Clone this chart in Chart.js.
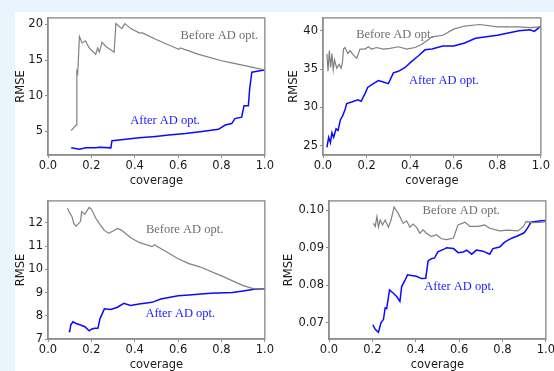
<html lang="en">
<head>
  <meta charset="UTF-8" />
  <title>RMSE vs coverage</title>
  <script src="https://cdn.jsdelivr.net/npm/chart.js"></script>
  <style>
    html, body {
      margin: 0;
      padding: 0;
      width: 554px;
      height: 371px;
      overflow: hidden;
      background: #e9f5fc;
    }
    #panel {
      position: absolute;
      left: 15px;
      top: 12px;
      width: 539px;
      height: 359px;
      background: white;
    }
    .box {
      position: absolute;
    }
  </style>
</head>
<body>
  <div id="panel"></div>
  <div class="box" id="b1"><canvas id="c1"></canvas></div>
  <div class="box" id="b2"><canvas id="c2"></canvas></div>
  <div class="box" id="b3"><canvas id="c3"></canvas></div>
  <div class="box" id="b4"><canvas id="c4"></canvas></div>

  <script>
    // x ticks shared by all four panels
    const coverageTicks = [0, 0.2, 0.4, 0.6, 0.8, 1.0];

    // panel 1 (top left)
    const p1BeforeX = [0.107, 0.127, 0.130, 0.133, 0.137, 0.145, 0.157, 0.172, 0.19, 0.22, 0.229, 0.237, 0.249, 0.267, 0.305, 0.307, 0.313, 0.34, 0.354, 0.382, 0.42, 0.435, 0.496, 0.573, 0.603, 0.61, 0.695, 0.80, 0.847, 0.94, 1.0];
    const p1BeforeY = [5.1, 5.8, 5.9, 13.4, 13.1, 18.3, 17.4, 17.7, 16.7, 15.8, 16.7, 16.1, 17.5, 16.9, 16.1, 16.1, 20.1, 19.4, 20.1, 19.4, 18.8, 18.8, 17.9, 16.9, 16.5, 16.7, 15.8, 14.9, 14.6, 14.0, 13.6];
    const p1AfterX = [0.107, 0.145, 0.175, 0.22, 0.237, 0.29, 0.295, 0.328, 0.42, 0.496, 0.557, 0.634, 0.71, 0.786, 0.817, 0.847, 0.862, 0.893, 0.904, 0.924, 0.93, 0.94, 0.977, 1.0];
    const p1AfterY = [2.7, 2.5, 2.7, 2.7, 2.8, 2.7, 3.7, 3.8, 4.1, 4.3, 4.5, 4.7, 5.0, 5.3, 5.9, 6.1, 6.8, 7.0, 8.6, 8.6, 11.0, 13.3, 13.5, 13.6];
    const p1Ticks = [5, 10, 15, 20];

    // panel 2 (top right)
    const p2BeforeX = [0.018, 0.023, 0.029, 0.035, 0.041, 0.047, 0.053, 0.063, 0.074, 0.083, 0.089, 0.094, 0.101, 0.114, 0.124, 0.14, 0.155, 0.17, 0.193, 0.208, 0.223, 0.246, 0.277, 0.308, 0.346, 0.384, 0.422, 0.452, 0.483, 0.5, 0.55, 0.6, 0.65, 0.72, 0.8, 0.9, 0.95, 1.0];
    const p2BeforeY = [37.0, 34.7, 37.4, 35.2, 37.0, 34.9, 36.2, 35.1, 35.6, 35.1, 35.8, 37.6, 37.8, 37.0, 37.4, 36.8, 36.4, 37.6, 37.6, 37.9, 37.6, 37.8, 37.6, 37.7, 37.9, 37.6, 37.8, 38.2, 38.8, 39.2, 39.4, 40.2, 40.6, 40.8, 40.5, 40.5, 40.4, 40.5];
    const p2AfterX = [0.018, 0.026, 0.034, 0.041, 0.049, 0.06, 0.069, 0.08, 0.09, 0.101, 0.109, 0.132, 0.16, 0.175, 0.193, 0.205, 0.231, 0.254, 0.277, 0.3, 0.323, 0.346, 0.377, 0.407, 0.437, 0.468, 0.5, 0.55, 0.6, 0.65, 0.7, 0.75, 0.8, 0.85, 0.9, 0.95, 0.97, 1.0];
    const p2AfterY = [24.8, 26.1, 25.4, 26.7, 26.1, 27.2, 27.0, 28.4, 28.9, 29.7, 30.5, 30.7, 31.0, 30.8, 31.8, 32.6, 33.1, 33.5, 33.3, 33.1, 34.5, 34.7, 35.2, 36.0, 36.7, 37.5, 37.6, 38.0, 38.0, 38.4, 39.0, 39.2, 39.4, 39.7, 40.0, 40.1, 39.9, 40.6];
    const p2Ticks = [25, 30, 35, 40];

    // panel 3 (bottom left)
    const p3BeforeX = [0.09, 0.1, 0.11, 0.12, 0.13, 0.15, 0.155, 0.17, 0.19, 0.2, 0.22, 0.24, 0.26, 0.28, 0.3, 0.32, 0.34, 0.38, 0.42, 0.48, 0.49, 0.55, 0.6, 0.65, 0.7, 0.8, 0.9, 0.95, 1.0];
    const p3BeforeY = [12.63, 12.42, 12.28, 11.96, 11.86, 12.07, 12.49, 12.38, 12.67, 12.6, 12.21, 11.93, 11.68, 11.55, 11.65, 11.76, 11.68, 11.37, 11.16, 10.98, 11.06, 10.74, 10.46, 10.25, 10.11, 9.72, 9.3, 9.16, 9.16];
    const p3AfterX = [0.095, 0.1, 0.105, 0.115, 0.13, 0.15, 0.17, 0.19, 0.2, 0.215, 0.23, 0.24, 0.26, 0.29, 0.32, 0.35, 0.38, 0.42, 0.48, 0.52, 0.6, 0.65, 0.75, 0.85, 0.9, 0.95, 1.0];
    const p3AfterY = [7.32, 7.32, 7.6, 7.74, 7.67, 7.6, 7.53, 7.35, 7.42, 7.46, 7.46, 7.88, 8.3, 8.27, 8.37, 8.54, 8.44, 8.51, 8.58, 8.72, 8.86, 8.9, 8.97, 9.0, 9.07, 9.14, 9.16];
    const p3Ticks = [7, 8, 9, 10, 11, 12];

    // panel 4 (bottom right)
    const p4BeforeX = [0.205, 0.213, 0.221, 0.228, 0.236, 0.247, 0.259, 0.274, 0.286, 0.30, 0.32, 0.342, 0.358, 0.373, 0.388, 0.403, 0.419, 0.434, 0.449, 0.472, 0.495, 0.518, 0.543, 0.574, 0.595, 0.627, 0.65, 0.688, 0.718, 0.741, 0.787, 0.825, 0.871, 0.897, 0.909, 0.939, 0.97, 1.0];
    const p4BeforeY = [0.0965, 0.0957, 0.0983, 0.0955, 0.0974, 0.0961, 0.0974, 0.0955, 0.0974, 0.1009, 0.0991, 0.0965, 0.0972, 0.0955, 0.0963, 0.0955, 0.0939, 0.0948, 0.0939, 0.0930, 0.0935, 0.0924, 0.0922, 0.0926, 0.0961, 0.0968, 0.0957, 0.0957, 0.0961, 0.0952, 0.0945, 0.0947, 0.0945, 0.0957, 0.0970, 0.0967, 0.0968, 0.0969];
    const p4AfterX = [0.202, 0.213, 0.228, 0.24, 0.251, 0.259, 0.266, 0.279, 0.297, 0.312, 0.327, 0.335, 0.35, 0.362, 0.381, 0.403, 0.426, 0.446, 0.457, 0.472, 0.487, 0.502, 0.533, 0.543, 0.574, 0.596, 0.62, 0.635, 0.658, 0.68, 0.71, 0.741, 0.756, 0.787, 0.81, 0.84, 0.871, 0.9, 0.916, 0.931, 0.954, 0.977, 1.0];
    const p4AfterY = [0.0695, 0.0683, 0.0675, 0.0701, 0.0709, 0.0740, 0.0738, 0.0788, 0.0779, 0.0770, 0.0757, 0.0796, 0.0813, 0.0828, 0.0826, 0.0824, 0.0818, 0.0819, 0.0865, 0.0871, 0.0873, 0.0889, 0.0897, 0.0900, 0.0898, 0.0887, 0.0889, 0.0894, 0.0883, 0.0894, 0.0891, 0.0883, 0.0898, 0.0902, 0.0915, 0.0925, 0.0932, 0.0940, 0.0953, 0.0968, 0.0970, 0.0972, 0.0973];
    const p4Ticks = [0.07, 0.08, 0.09, 0.10];

    const frameColor = "#8e8e8e";
    const grayLine = "#808080";
    const blueLine = "#0a0aff";

    // frame around plot area + the two text notes
    const framePlugin = {
      id: "frame",
      afterDatasetsDraw(chart, args, opts) {
        const { ctx, chartArea: a, scales } = chart;
        ctx.save();
        ctx.strokeStyle = frameColor;
        ctx.lineWidth = 1.4;
        ctx.strokeRect(a.left, a.top, a.right - a.left, a.bottom - a.top);
        ctx.font = "12.5px 'Liberation Serif', 'DejaVu Serif', serif";
        ctx.textAlign = "center";
        ctx.textBaseline = "middle";
        opts.notes.forEach(n => {
          ctx.fillStyle = n.color;
          ctx.fillText(n.text, scales.x.getPixelForValue(n.x), scales.y.getPixelForValue(n.y));
        });
        ctx.restore();
      }
    };

    function toPoints(xs, ys) {
      return xs.map((x, i) => ({ x: x, y: ys[i] }));
    }

    // frame = plot rectangle (left, top, right, bottom) as seen in the picture
    function makeChart(id, boxId, frame, yw, yMin, yMax, yTicks, decimals, before, after, notes) {
      const padTop = 5, padRight = 8, xh = 33;
      const b = document.getElementById(boxId);
      b.style.left = (frame.left - yw) + "px";
      b.style.top = (frame.top - padTop) + "px";
      b.style.width = (frame.right - frame.left + yw + padRight) + "px";
      b.style.height = (frame.bottom - frame.top + padTop + xh) + "px";

      const tickFont = { family: "'DejaVu Sans', sans-serif", size: 11.5 };

      new Chart(document.getElementById(id), {
        type: "line",
        data: {
          datasets: [
            { data: before, borderColor: grayLine, borderWidth: 1.2, pointRadius: 0, tension: 0 },
            { data: after, borderColor: blueLine, borderWidth: 1.5, pointRadius: 0, tension: 0 }
          ]
        },
        options: {
          responsive: true,
          maintainAspectRatio: false,
          animation: false,
          layout: { padding: { top: padTop, right: padRight, left: 0, bottom: 0 } },
          plugins: {
            legend: { display: false },
            tooltip: { enabled: false },
            frame: { notes: notes }
          },
          scales: {
            x: {
              type: "linear",
              min: 0,
              max: 1,
              afterBuildTicks: s => { s.ticks = coverageTicks.map(v => ({ value: v })); },
              afterFit: s => { s.height = xh; },
              ticks: {
                color: "#1a1a1a",
                font: tickFont,
                padding: 1,
                maxRotation: 0,
                callback: v => v.toFixed(1)
              },
              grid: { drawOnChartArea: false, tickLength: 3, color: frameColor },
              border: { color: frameColor, width: 1.4 },
              title: {
                display: true,
                text: "coverage",
                color: "#1a1a1a",
                font: tickFont,
                padding: { top: 0, bottom: 0 }
              }
            },
            y: {
              min: yMin,
              max: yMax,
              afterBuildTicks: s => { s.ticks = yTicks.map(v => ({ value: v })); },
              afterFit: s => { s.width = yw; },
              ticks: {
                color: "#1a1a1a",
                font: tickFont,
                padding: 2,
                callback: v => v.toFixed(decimals)
              },
              grid: { drawOnChartArea: false, tickLength: 3, color: frameColor },
              border: { color: frameColor, width: 1.4 },
              title: {
                display: true,
                text: "RMSE",
                color: "#1a1a1a",
                font: tickFont,
                padding: { top: 0, bottom: 0 }
              }
            }
          }
        },
        plugins: [framePlugin]
      });
    }

    makeChart("c1", "b1", { left: 48, top: 14, right: 267, bottom: 155 }, 34,
      1.7, 20.9, p1Ticks, 0,
      toPoints(p1BeforeX, p1BeforeY), toPoints(p1AfterX, p1AfterY),
      [{ text: "Before AD opt.", x: 0.79, y: 18.4, color: "#6e6e6e" },
       { text: "After AD opt.", x: 0.54, y: 6.5, color: "#1a1aff" }]);

    makeChart("c2", "b2", { left: 323, top: 14, right: 543, bottom: 155 }, 36,
      23.8, 41.66, p2Ticks, 0,
      toPoints(p2BeforeX, p2BeforeY), toPoints(p2AfterX, p2AfterY),
      [{ text: "Before AD opt.", x: 0.33, y: 39.5, color: "#6e6e6e" },
       { text: "After AD opt.", x: 0.555, y: 33.5, color: "#1a1aff" }]);

    makeChart("c3", "b3", { left: 48, top: 197, right: 267, bottom: 339 }, 34,
      7, 12.95, p3Ticks, 0,
      toPoints(p3BeforeX, p3BeforeY), toPoints(p3AfterX, p3AfterY),
      [{ text: "Before AD opt.", x: 0.63, y: 11.72, color: "#6e6e6e" },
       { text: "After AD opt.", x: 0.61, y: 8.1, color: "#1a1aff" }]);

    makeChart("c4", "b4", { left: 329, top: 197, right: 548, bottom: 339 }, 47,
      0.0657, 0.1025, p4Ticks, 2,
      toPoints(p4BeforeX, p4BeforeY), toPoints(p4AfterX, p4AfterY),
      [{ text: "Before AD opt.", x: 0.61, y: 0.0999, color: "#6e6e6e" },
       { text: "After AD opt.", x: 0.6, y: 0.0797, color: "#1a1aff" }]);
  </script>
</body>
</html>
